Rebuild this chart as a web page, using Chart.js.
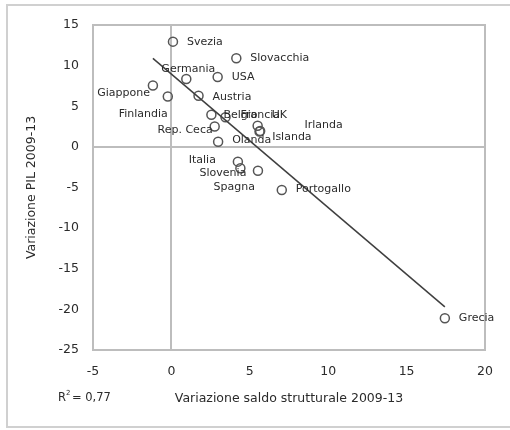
<!DOCTYPE html>
<html>
<head>
<meta charset="utf-8">
<script src="https://cdn.jsdelivr.net/npm/chart.js@4/dist/chart.umd.min.js"></script>
<style>
html, body { margin: 0; padding: 0; background: #fff; }
#wrap { width: 510px; height: 430px; }
</style>
</head>
<body>
<div id="wrap"><canvas id="graphSaldo" width="510" height="430"></canvas></div>
<script>
// dati
var paesi = ["Svezia", "Slovacchia", "Germania", "USA", "Giappone", "Finlandia", "Austria",
    "Belgio", "Francia", "UK", "Irlanda", "Islanda", "Rep. Ceca", "Olanda",
    "Italia", "Slovenia", "Spagna", "Portogallo", "Grecia"];
var saldoStrutturale = [0.1, 4.14, 0.95, 2.95, -1.18, -0.23, 1.73,
    2.55, 3.45, 5.5, 5.62, 5.66, 2.76, 2.98,
    4.24, 4.4, 5.52, 7.04, 17.44];
var variazionePil = [12.95, 10.9, 8.35, 8.6, 7.56, 6.2, 6.3,
    3.95, 3.65, 2.6, 1.9, 1.95, 2.5, 0.64,
    -1.82, -2.63, -2.93, -5.3, -21.1];
var trendX = [-1.18, 17.44];
var trendY = [10.9, -19.7];
var xTickValues = [-5, 0, 5, 10, 15, 20];
var yTickValues = [-25, -20, -15, -10, -5, 0, 5, 10, 15];
var r2Text = "0,77";

var textColor = "#2b2b2b";
var fontName = "'DejaVu Sans', sans-serif";

// posizione etichette: [allineamento, dx, dy]
var labelPos = {
    "Svezia": ["l", 14, 0], "Slovacchia": ["l", 14, 0], "Germania": ["c", 2, -10],
    "USA": ["l", 14, 0], "Giappone": ["r", -3, 8], "Finlandia": ["r", 0, 18],
    "Austria": ["l", 14, 1], "Belgio": ["l", 12, 0], "Francia": ["l", 15, -2],
    "UK": ["l", 14, -11], "Irlanda": ["l", 45, -6], "Islanda": ["l", 12, 6],
    "Rep. Ceca": ["r", -2, 4], "Olanda": ["l", 14, -2], "Italia": ["r", -22, -2],
    "Slovenia": ["r", 6, 5], "Spagna": ["r", -3, 16], "Portogallo": ["l", 14, -1],
    "Grecia": ["l", 14, 0]
};

var framePlugin = {
    id: "framePlugin",
    beforeDraw: function(chart){
        var ctx = chart.ctx;
        ctx.save();
        ctx.strokeStyle = "#d0d0d0";
        ctx.lineWidth = 2;
        ctx.strokeRect(7, 5, 520, 422);
        ctx.restore();
    },
    beforeDatasetsDraw: function(chart){
        var a = chart.chartArea;
        var ctx = chart.ctx;
        ctx.save();
        ctx.strokeStyle = "#bdbdbd";
        ctx.lineWidth = 2;
        ctx.strokeRect(a.left, a.top, a.right - a.left, a.bottom - a.top);
        ctx.restore();
    },
    afterDatasetsDraw: function(chart){
        var ctx = chart.ctx;
        var meta = chart.getDatasetMeta(1);
        ctx.save();
        ctx.font = "11px " + fontName;
        ctx.fillStyle = textColor;
        ctx.textBaseline = "middle";
        meta.data.forEach(function(pt, i){
            var name = paesi[i];
            var p = labelPos[name] || ["l", 14, 0];
            ctx.textAlign = p[0] == "l" ? "left" : (p[0] == "r" ? "right" : "center");
            ctx.fillText(name, pt.x + p[1], pt.y + p[2]);
        });
        // R2
        ctx.font = "11.5px " + fontName;
        ctx.textAlign = "left";
        ctx.fillText("R", 58, 398);
        ctx.font = "7px " + fontName;
        ctx.fillText("2", 66, 393);
        ctx.font = "11.5px " + fontName;
        ctx.fillText("= " + r2Text, 72, 398);
        ctx.restore();
    }
};

var zeroGrid = function(c){
    return c.tick && c.tick.value == 0 ? "#bdbdbd" : "rgba(0,0,0,0)";
};

var chartSaldo = new Chart(document.getElementById("graphSaldo").getContext("2d"), {
    type: "scatter",
    data: {
        datasets: [{
            type: "line",
            data: trendX.map(function(x, i){ return {x: x, y: trendY[i]}; }),
            borderColor: "#3f3f3f",
            borderWidth: 1.5,
            pointRadius: 0,
            fill: false
        }, {
            data: saldoStrutturale.map(function(x, i){ return {x: x, y: variazionePil[i]}; }),
            borderColor: "#555555",
            backgroundColor: "rgba(0,0,0,0)",
            borderWidth: 1.5,
            pointRadius: 4.5
        }]
    },
    options: {
        responsive: false,
        animation: false,
        layout: { padding: { left: 20, right: 25, top: 25, bottom: 0 } },
        plugins: { legend: { display: false }, tooltip: { enabled: false } },
        scales: {
            x: {
                type: "linear",
                min: -5,
                max: 20,
                afterBuildTicks: function(scale){
                    scale.ticks = xTickValues.map(function(v){ return {value: v}; });
                },
                afterFit: function(scale){ scale.height = 80; },
                grid: { color: zeroGrid, lineWidth: 2, drawTicks: false },
                border: { display: false },
                ticks: { padding: 14, color: textColor, font: { family: fontName, size: 12.5 } },
                title: {
                    display: true,
                    text: "Variazione saldo strutturale 2009-13",
                    color: textColor,
                    font: { family: fontName, size: 12.5 },
                    padding: { top: 4, bottom: 24 }
                }
            },
            y: {
                type: "linear",
                min: -25,
                max: 15,
                afterBuildTicks: function(scale){
                    scale.ticks = yTickValues.map(function(v){ return {value: v}; });
                },
                afterFit: function(scale){ scale.width = 73; },
                grid: { color: zeroGrid, lineWidth: 2, drawTicks: false },
                border: { display: false },
                ticks: { padding: 14, color: textColor, font: { family: fontName, size: 12.5 } },
                title: {
                    display: true,
                    text: "Variazione PIL 2009-13",
                    color: textColor,
                    font: { family: fontName, size: 12.5 },
                    padding: { top: 4, bottom: 4 }
                }
            }
        }
    },
    plugins: [framePlugin]
});
</script>
</body>
</html>
